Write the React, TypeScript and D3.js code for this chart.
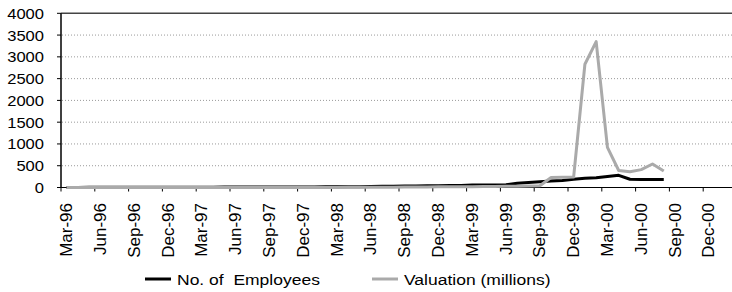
import { useEffect, useRef } from 'react';
import * as d3 from 'd3';

// quarterly tick labels, monthly data starting Mar-96
const tickLabels = [
  'Mar-96', 'Jun-96', 'Sep-96', 'Dec-96', 'Mar-97', 'Jun-97', 'Sep-97', 'Dec-97',
  'Mar-98', 'Jun-98', 'Sep-98', 'Dec-98', 'Mar-99', 'Jun-99', 'Sep-99', 'Dec-99',
  'Mar-00', 'Jun-00', 'Sep-00', 'Dec-00'
];

const employees = [
  2, 2, 3, 3, 4, 4, 5, 5, 6, 6, 7, 7, 8, 8, 9, 9, 10, 10, 11, 12, 12, 13,
  14, 15, 16, 18, 20, 25, 28, 30,
  32, 34, 38, 42, 45, 48, 55, 58, 60, 62,
  100, 115, 130, 150, 160, 190, 215, 225, 250, 280, 190, 185, 185, 185
];

const valuation = [
  0, 0, 0, 0, 0, 0, 0, 0, 0, 0, 0, 0, 0, 0, 0, 0, 0, 0, 0, 0, 0, 0, 0, 0,
  2, 3, 4, 5, 6, 8, 10, 12, 14, 15, 16, 18, 20, 22, 24, 26, 30, 35,
  40, 230, 235, 240, 2830, 3350, 920, 390, 360, 410, 540, 380
];

const yTicks = [0, 500, 1000, 1500, 2000, 2500, 3000, 3500, 4000];

const legendItems = [
  { name: 'No. of  Employees', color: '#000000' },
  { name: 'Valuation (millions)', color: '#aaaaaa' }
];

const font = '"Liberation Sans", Arial, sans-serif';

export default function App() {
  const svgRef = useRef<SVGSVGElement>(null);

  useEffect(() => {
    const width = 732;
    const height = 292;
    const svg = d3.select(svgRef.current)
      .attr('width', width)
      .attr('height', height);
    svg.selectAll('*').remove();

    // month index scale (60 months Mar-96 .. Mar-01)
    const x = d3.scaleLinear().domain([0, 60]).range([61, 737]);
    const y = d3.scaleLinear().domain([0, 4000]).range([187.5, 13.3]);

    // gridlines
    svg.append('g')
      .selectAll('line')
      .data(yTicks.filter(d => d > 0 && d < 4000))
      .enter()
      .append('line')
      .attr('x1', 62).attr('x2', width)
      .attr('y1', d => y(d)).attr('y2', d => y(d))
      .attr('stroke', '#9a9a9a')
      .attr('stroke-width', 1)
      .attr('stroke-dasharray', '1,2');

    // top border
    svg.append('line')
      .attr('x1', 61).attr('x2', width)
      .attr('y1', y(4000)).attr('y2', y(4000))
      .attr('stroke', '#444').attr('stroke-width', 1.5);

    // y axis
    svg.append('line')
      .attr('x1', 61).attr('x2', 61)
      .attr('y1', y(4000)).attr('y2', y(0))
      .attr('stroke', '#000').attr('stroke-width', 1.5);

    svg.append('g')
      .selectAll('line')
      .data(yTicks)
      .enter()
      .append('line')
      .attr('x1', 57).attr('x2', 61)
      .attr('y1', d => y(d)).attr('y2', d => y(d))
      .attr('stroke', '#000');

    svg.append('g')
      .selectAll('text')
      .data(yTicks)
      .enter()
      .append('text')
      .attr('transform', d => `translate(44,${y(d) + 0.5}) scale(1.2,1)`)
      .attr('text-anchor', 'end')
      .attr('dominant-baseline', 'central')
      .attr('font-family', font)
      .attr('font-size', 13.8)
      .text(d => d);

    // x axis
    svg.append('line')
      .attr('x1', 61).attr('x2', width)
      .attr('y1', y(0)).attr('y2', y(0))
      .attr('stroke', '#000').attr('stroke-width', 1);

    svg.append('g')
      .selectAll('line')
      .data(tickLabels)
      .enter()
      .append('line')
      .attr('x1', (d, i) => x(i * 3)).attr('x2', (d, i) => x(i * 3))
      .attr('y1', y(0)).attr('y2', y(0) + 4)
      .attr('stroke', '#000');

    svg.append('g')
      .selectAll('text')
      .data(tickLabels)
      .enter()
      .append('text')
      .attr('transform', (d, i) => `translate(${x(i * 3 + 0.5)},203) rotate(-90)`)
      .attr('text-anchor', 'end')
      .attr('dominant-baseline', 'central')
      .attr('font-family', font)
      .attr('font-size', 17)
      .text(d => d);

    const line = d3.line<number>()
      .x((d, i) => x(i + 0.5))
      .y(d => y(d));

    svg.append('path')
      .datum(employees)
      .attr('fill', 'none')
      .attr('stroke', '#000')
      .attr('stroke-width', 3)
      .attr('stroke-linejoin', 'round')
      .attr('d', line);

    svg.append('path')
      .datum(valuation)
      .attr('fill', 'none')
      .attr('stroke', '#aaaaaa')
      .attr('stroke-width', 3)
      .attr('stroke-linejoin', 'round')
      .attr('d', line);

    // legend
    const legendX = [145, 372];
    const legend = svg.append('g')
      .selectAll('g')
      .data(legendItems)
      .enter()
      .append('g')
      .attr('transform', (d, i) => `translate(${legendX[i]},279)`);

    legend.append('line')
      .attr('x1', 0).attr('x2', 26)
      .attr('y1', 0).attr('y2', 0)
      .attr('stroke', d => d.color)
      .attr('stroke-width', 3);

    legend.append('text')
      .attr('transform', 'translate(32,6) scale(1.13,1)')
      .attr('font-family', font)
      .attr('font-size', 15.5)
      .attr('xml:space', 'preserve')
      .style('white-space', 'pre')
      .text(d => d.name);
  }, []);

  return (
    <svg ref={svgRef} style={{ position: 'absolute', left: 0, top: 0 }}></svg>
  );
}
